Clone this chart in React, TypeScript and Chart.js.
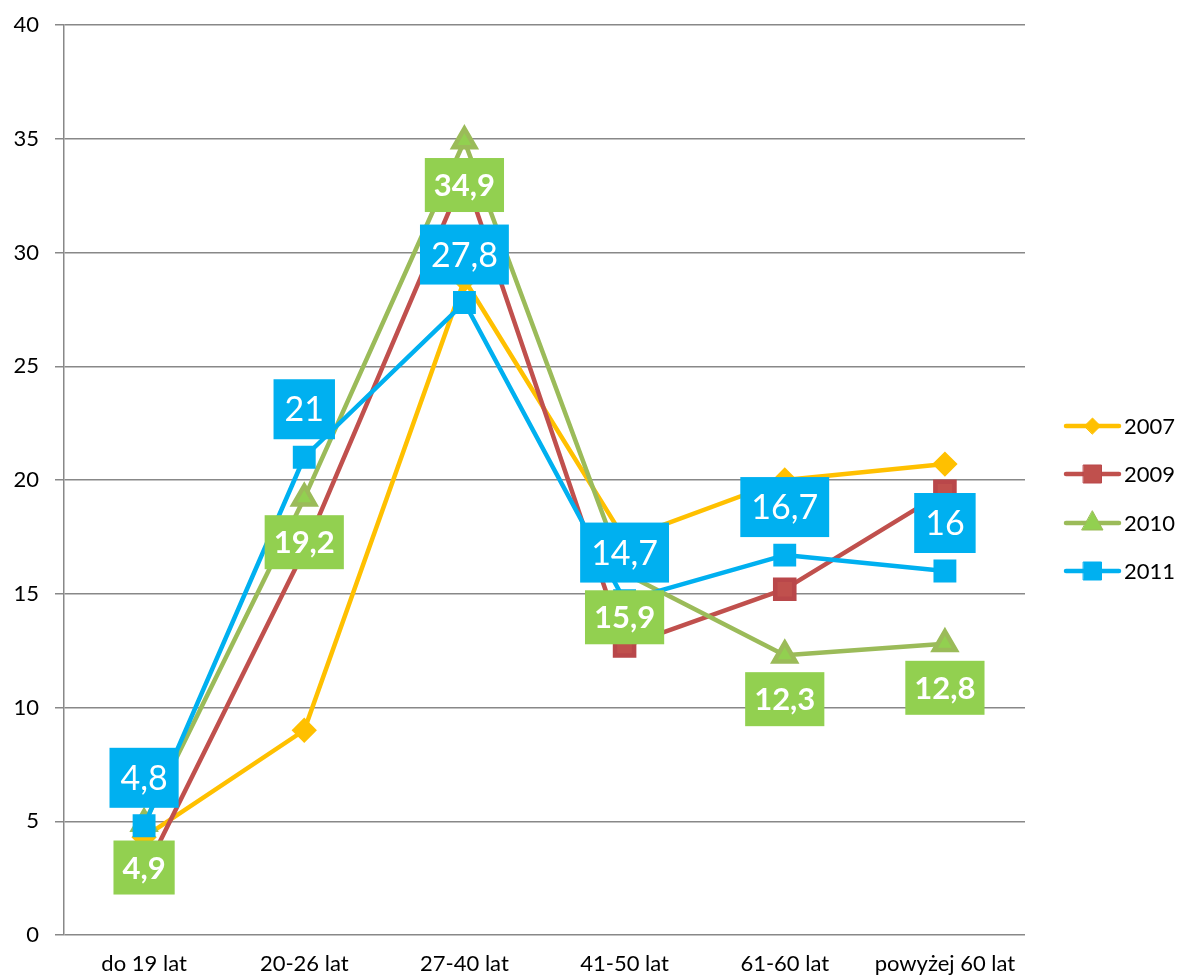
import React, { useEffect, useRef } from "react";
import { Chart, registerables } from "chart.js";

Chart.register(...registerables);

const categories = ["do 19 lat", "20-26 lat", "27-40 lat", "41-50 lat", "61-60 lat", "powyżej 60 lat"];
const s2007 = [4.3, 9.0, 28.8, 17.4, 20.0, 20.7];
const s2009 = [2.7, 16.9, 33.4, 12.7, 15.2, 19.5];
const s2010 = [4.9, 19.2, 34.9, 15.9, 12.3, 12.8];
const s2011 = [4.8, 21.0, 27.8, 14.7, 16.7, 16.0];
const yTicks = [0, 5, 10, 15, 20, 25, 30, 35, 40];

const FONT = "Lato, 'Noto Sans', sans-serif";

const fmt = (v: number) => String(v).replace(".", ",");

const labelPlugin = {
  id: "boxLabels",
  afterDatasetsDraw(chart: any) {
    const ctx = chart.ctx;
    const specs = [
      { idx: 2, bg: "#92D050", font: `bold 31px ${FONT}`, h: 54, pad: 9, off: 44 },
      { idx: 3, bg: "#00B0F0", font: `34px ${FONT}`, h: 60, pad: 11, off: -48 },
    ];
    ctx.save();
    for (const s of specs) {
      const meta = chart.getDatasetMeta(s.idx);
      const data = chart.data.datasets[s.idx].data as number[];
      ctx.font = s.font;
      meta.data.forEach((pt: any, i: number) => {
        const txt = fmt(data[i]);
        const w = ctx.measureText(txt).width + s.pad * 2;
        const cx = pt.x;
        const cy = pt.y + s.off;
        ctx.fillStyle = s.bg;
        ctx.fillRect(cx - w / 2, cy - s.h / 2, w, s.h);
        ctx.fillStyle = "#ffffff";
        ctx.textAlign = "center";
        ctx.textBaseline = "middle";
        ctx.fillText(txt, cx, cy + 1);
      });
    }
    ctx.restore();
  },
};

const legendPlugin = {
  id: "sideLegend",
  afterDraw(chart: any) {
    const ctx = chart.ctx;
    const x0 = 1066;
    const x1 = 1119;
    const ys = [426, 474, 523, 571];
    ctx.save();
    chart.data.datasets.forEach((ds: any, i: number) => {
      const y = ys[i];
      ctx.strokeStyle = ds.borderColor;
      ctx.lineWidth = 4.5;
      ctx.lineCap = "round";
      ctx.beginPath();
      ctx.moveTo(x0, y);
      ctx.lineTo(x1, y);
      ctx.stroke();
      ctx.fillStyle = ds.pointBackgroundColor;
      ctx.strokeStyle = ds.pointBorderColor;
      ctx.lineWidth = 1;
      const cx = (x0 + x1) / 2;
      const r = ds.legendRadius;
      ctx.beginPath();
      if (ds.pointStyle === "rectRot") {
        ctx.moveTo(cx - r, y);
        ctx.lineTo(cx, y - r);
        ctx.lineTo(cx + r, y);
        ctx.lineTo(cx, y + r);
        ctx.closePath();
      } else if (ds.pointStyle === "rect") {
        ctx.rect(cx - r, y - r, 2 * r, 2 * r);
      } else {
        ctx.moveTo(cx, y - r * 1.2);
        ctx.lineTo(cx + r * 1.05, y + r * 0.7);
        ctx.lineTo(cx - r * 1.05, y + r * 0.7);
        ctx.closePath();
      }
      ctx.fill();
      ctx.stroke();
      ctx.fillStyle = "#000000";
      ctx.font = `22px ${FONT}`;
      ctx.textAlign = "left";
      ctx.textBaseline = "middle";
      ctx.fillText(ds.label, 1124, y + 1);
    });
    ctx.restore();
  },
};

export default function App() {
  const ref = useRef<HTMLCanvasElement>(null);
  useEffect(() => {
    document.body.style.margin = "0";
    const canvas = ref.current!;
    const chart = new Chart(canvas, {
      type: "line",
      data: {
        labels: categories,
        datasets: [
          {
            label: "2007",
            data: s2007,
            borderColor: "#FFC000",
            backgroundColor: "#FFC000",
            pointBackgroundColor: "#FFC000",
            pointBorderColor: "#FFC000",
            pointStyle: "rectRot",
            pointRadius: 9.5,
            borderWidth: 4.5,
            order: 3,
            legendRadius: 8,
          } as any,
          {
            label: "2009",
            data: s2009,
            borderColor: "#C0504D",
            backgroundColor: "#C0504D",
            pointBackgroundColor: "#C0504D",
            pointBorderColor: "#B9474A",
            pointStyle: "rect",
            pointRadius: 13.5,
            borderWidth: 4.5,
            order: 2,
            legendRadius: 9,
          } as any,
          {
            label: "2010",
            data: s2010,
            borderColor: "#9BBB59",
            backgroundColor: "#92D050",
            pointBackgroundColor: "#92D050",
            pointBorderColor: "#9BBB59",
            pointStyle: "triangle",
            pointRadius: 12.5,
            borderWidth: 4.5,
            order: 1,
            legendRadius: 10,
          } as any,
          {
            label: "2011",
            data: s2011,
            borderColor: "#00B0F0",
            backgroundColor: "#00B0F0",
            pointBackgroundColor: "#00B0F0",
            pointBorderColor: "#00B0F0",
            pointStyle: "rect",
            pointRadius: 13,
            borderWidth: 4.5,
            order: 0,
            legendRadius: 9,
          } as any,
        ],
      },
      options: {
        responsive: false,
        animation: false,
        layout: { padding: { left: 0, right: 156, top: 25, bottom: 0 } },
        plugins: {
          legend: { display: false },
          tooltip: { enabled: false },
        },
        elements: {
          line: { tension: 0, borderJoinStyle: "round", borderCapStyle: "round" },
          point: { borderWidth: 1, hoverRadius: 0 },
        },
        scales: {
          x: {
            offset: true,
            grid: { display: false, drawOnChartArea: false, drawTicks: false },
            border: { display: false },
            ticks: {
              color: "#000000",
              font: { family: FONT, size: 22 },
              padding: 16,
              maxRotation: 0,
              autoSkip: false,
            },
            afterFit: (s: any) => {
              s.height = 45;
            },
          },
          y: {
            min: 0,
            max: 40,
            afterBuildTicks: (s: any) => {
              s.ticks = yTicks.map((v) => ({ value: v }));
            },
            grid: {
              color: "#888888",
              lineWidth: 1.5,
              tickLength: 9,
              tickColor: "#888888",
            },
            border: { display: true, color: "#888888", width: 1.5 },
            ticks: {
              color: "#000000",
              font: { family: FONT, size: 22 },
              padding: 16,
            },
            afterFit: (s: any) => {
              s.width = 64;
              s.paddingTop = 0;
              s.paddingBottom = 0;
            },
          },
        },
      },
      plugins: [labelPlugin, legendPlugin],
    });
    return () => chart.destroy();
  }, []);
  return <canvas ref={ref} width={1181} height={980} style={{ display: "block" }} />;
}
